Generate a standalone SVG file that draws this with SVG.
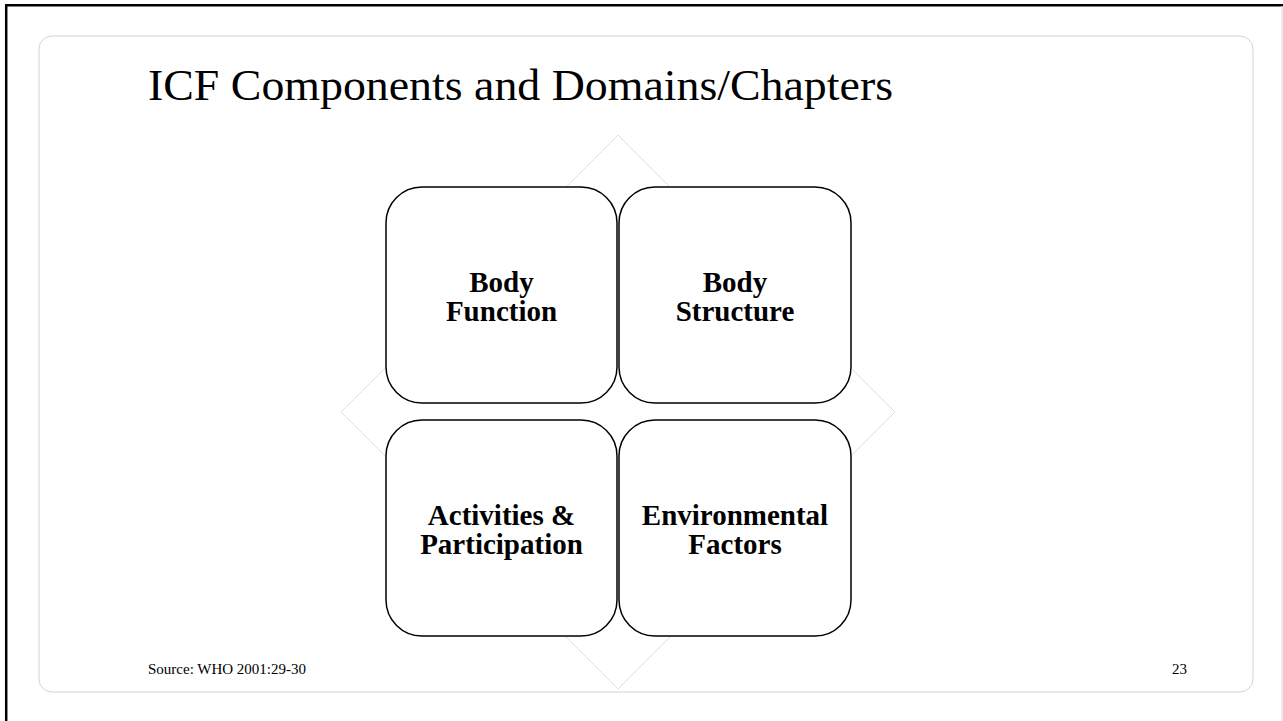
<svg xmlns="http://www.w3.org/2000/svg" width="1283" height="721" viewBox="0 0 1283 721">
<style>
.box{fill:#fff;stroke:#000;stroke-width:1.5}
.lbl{font-family:"Liberation Serif",serif;font-weight:bold;font-size:29px;fill:#000;text-anchor:middle}
.ttl{font-family:"Liberation Serif",serif;font-size:44px;fill:#000}
.small{font-family:"Liberation Serif",serif;font-size:15px;fill:#000}
</style>
<rect width="1283" height="721" fill="#fff"/>
<path d="M6.2,721 V5.3 H1283" fill="none" stroke="#000" stroke-width="2.5"/>
<path d="M1282,6 V721" stroke="#d8d8d8" stroke-width="1"/>
<rect x="39" y="36" width="1214" height="656" rx="13" fill="none" stroke="#d4d4d4" stroke-width="1"/>
<text class="ttl" x="148" y="100" textLength="745" lengthAdjust="spacingAndGlyphs">ICF Components and Domains/Chapters</text>
<g id="connectors">
<path d="M618,135 L895,412 L618,689 L341,412 Z" fill="none" stroke="#e0e0e0" stroke-width="1"/>
</g>
<g id="body-function">
<rect class="box" x="386" y="187" width="231" height="216" rx="36"/>
<text class="lbl" x="501.5" y="292">Body</text>
<text class="lbl" x="501.5" y="321">Function</text>
</g>
<g id="body-structure">
<rect class="box" x="619" y="187" width="232" height="216" rx="36"/>
<text class="lbl" x="735" y="292">Body</text>
<text class="lbl" x="735" y="321">Structure</text>
</g>
<g id="activities-participation">
<rect class="box" x="386" y="420" width="231" height="216" rx="36"/>
<text class="lbl" x="501.5" y="525">Activities &amp;</text>
<text class="lbl" x="501.5" y="554">Participation</text>
</g>
<g id="environmental-factors">
<rect class="box" x="619" y="420" width="232" height="216" rx="36"/>
<text class="lbl" x="735" y="525">Environmental</text>
<text class="lbl" x="735" y="554">Factors</text>
</g>
<text class="small" x="148" y="674">Source: WHO 2001:29-30</text>
<text class="small" x="1172" y="674">23</text>
</svg>
